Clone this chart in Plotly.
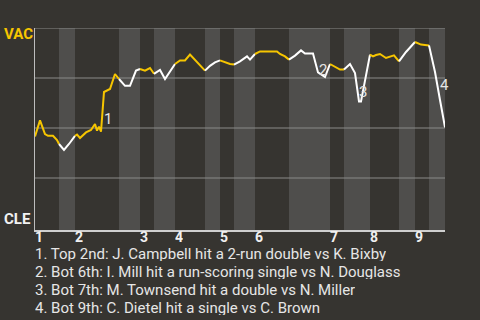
import plotly.graph_objects as go

# ---- data ----
home_team = "CLE"
away_team = "VAC"

# play sequence position and away-team (VAC) win probability
play_pos = [0, 5, 10, 13, 18, 22, 24,
            29, 34, 38, 40,
            42, 45, 51, 56, 60, 62, 64, 66, 69, 75, 80, 84,
            88, 90, 95, 101, 105,
            110, 115, 119,
            125, 130, 140,
            145, 150, 155, 170,
            175, 180, 185,
            190, 195, 199,
            205, 212, 215, 220,
            225, 242, 245, 250, 254,
            260, 266, 270, 278, 283, 290, 295,
            300, 305, 309,
            315, 320, 323, 324, 326, 335,
            338, 341, 345, 351, 359, 364,
            371, 380,
            386, 394,
            400, 405, 410]
win_prob = [0.458, 0.538, 0.47, 0.461, 0.461, 0.44, 0.42,
            0.39, 0.42, 0.445, 0.461,
            0.467, 0.45, 0.478, 0.49, 0.52, 0.487, 0.507, 0.482, 0.68, 0.695, 0.77, 0.745,
            0.72, 0.711, 0.711, 0.787, 0.795,
            0.787, 0.80, 0.771,
            0.79, 0.745, 0.82,
            0.838, 0.838, 0.867, 0.787,
            0.811, 0.828, 0.838,
            0.828, 0.82, 0.817,
            0.833, 0.858, 0.842, 0.87,
            0.883, 0.883, 0.87, 0.858, 0.842,
            0.862, 0.888, 0.872, 0.872, 0.778, 0.755, 0.82,
            0.808, 0.792, 0.792,
            0.82, 0.775, 0.683, 0.633, 0.633, 0.867,
            0.858, 0.865, 0.87, 0.85, 0.863, 0.833,
            0.88, 0.93,
            0.917, 0.913,
            0.78, 0.64, 0.503]

# half-inning boundaries (top 1st, bot 1st, top 2nd, ...)
half_bounds = [0, 24, 40, 84, 105, 119, 140, 170, 185, 199, 220, 254, 295, 309, 335, 364, 380, 394, 410]
inning_labels = ["1", "2", "3", "4", "5", "6", "7", "8", "9"]

# key events: play position of the event and label number
event_pos = [66, 290, 324, 405]
event_names = ["1", "2", "3", "4"]
event_text = [
    "1. Top 2nd: J. Campbell hit a 2-run double vs K. Bixby",
    "2. Bot 6th: I. Mill hit a run-scoring single vs N. Douglass",
    "3. Bot 7th: M. Townsend hit a double vs N. Miller",
    "4. Bot 9th: C. Dietel hit a single vs C. Brown",
]

grid_vals = [0.25, 0.5, 0.75, 1.0]

# ---- style ----
BG = "#363430"
BAND = "#4f4e4c"
GRID = "#8a8a88"
YELLOW = "#f6c500"
WHITE = "#ffffff"
FONT = "Roboto"

fig = go.Figure()

# line segments coloured by half inning
for i in range(len(half_bounds) - 1):
    x0, x1 = half_bounds[i], half_bounds[i + 1]
    xs, ys = [], []
    prev = None
    for xv, yv in zip(play_pos, win_prob):
        if xv < x0:
            prev = (xv, yv)
        elif xv <= x1:
            xs.append(xv)
            ys.append(yv)
    if prev is not None and (not xs or xs[0] != x0):
        xs.insert(0, prev[0])
        ys.insert(0, prev[1])
    color = YELLOW if i % 2 == 0 else WHITE
    fig.add_trace(go.Scatter(x=xs, y=ys, mode="lines",
                             line=dict(color=color, width=2),
                             hoverinfo="skip", showlegend=False))

shapes = []
# bottom-half bands
for i in range(1, len(half_bounds) - 1, 2):
    shapes.append(dict(type="rect", xref="x", yref="paper",
                       x0=half_bounds[i], x1=half_bounds[i + 1], y0=0, y1=1,
                       fillcolor=BAND, line=dict(width=0), layer="below"))
# grid lines
for g in grid_vals:
    shapes.append(dict(type="line", xref="paper", yref="y", x0=0, x1=1, y0=g, y1=g,
                       line=dict(color=GRID, width=1), layer="below"))

annotations = []
# team labels
annotations.append(dict(text="<b>%s</b>" % away_team, xref="paper", yref="paper",
                        x=0, xshift=-33, y=0.972, xanchor="left", yanchor="middle",
                        showarrow=False, font=dict(family=FONT, size=15, color=YELLOW)))
annotations.append(dict(text="<b>%s</b>" % home_team, xref="paper", yref="paper",
                        x=0, xshift=-33, y=0.052, xanchor="left", yanchor="middle",
                        showarrow=False, font=dict(family=FONT, size=15, color="#f2f2f2")))
# inning labels at each top-half start
for k, lab in enumerate(inning_labels):
    annotations.append(dict(text="<b>%s</b>" % lab, xref="x", yref="paper",
                            x=half_bounds[2 * k], xshift=-1, y=0, yshift=-7,
                            xanchor="left", yanchor="middle", showarrow=False,
                            height=12, valign="middle", borderpad=0,
                            font=dict(family=FONT, size=14, color="#f0f0f0")))
# event markers on chart
shifts = [(7, 13), (-2, 7), (4, 9), (4, 15)]
for (pos, name), (dx, dy) in zip(zip(event_pos, event_names), shifts):
    yv = win_prob[play_pos.index(pos)]
    annotations.append(dict(text=name, x=pos, y=yv, xref="x", yref="y",
                            xshift=dx, yshift=dy, showarrow=False,
                            xanchor="center", yanchor="middle",
                            font=dict(family=FONT, size=15, color="#e6e6e6")))
# event descriptions
for j, t in enumerate(event_text):
    annotations.append(dict(text=t, xref="paper", yref="paper", x=0, xshift=-1,
                            y=(230 - 253.5 - 18 * j) / 202.0, xanchor="left", yanchor="middle",
                            showarrow=False, height=15, valign="middle", borderpad=0,
                            font=dict(family=FONT, size=15, color="#e6e6e6")))

fig.update_layout(
    width=480, height=320,
    margin=dict(l=35, r=35, t=28, b=90, pad=0),
    paper_bgcolor=BG, plot_bgcolor=BG,
    shapes=shapes, annotations=annotations,
    xaxis=dict(range=[half_bounds[0], half_bounds[-1]], showgrid=False, zeroline=False,
               showticklabels=False, ticks="", showline=True, linecolor="#cfcfcf",
               linewidth=2, fixedrange=True),
    yaxis=dict(range=[-0.01, 1.0], showgrid=False, zeroline=False,
               showticklabels=False, ticks="", showline=True, linecolor="#bdbdbd",
               linewidth=1, fixedrange=True),
    showlegend=False,
)

fig.write_html("out.html", config={"displayModeBar": False})
